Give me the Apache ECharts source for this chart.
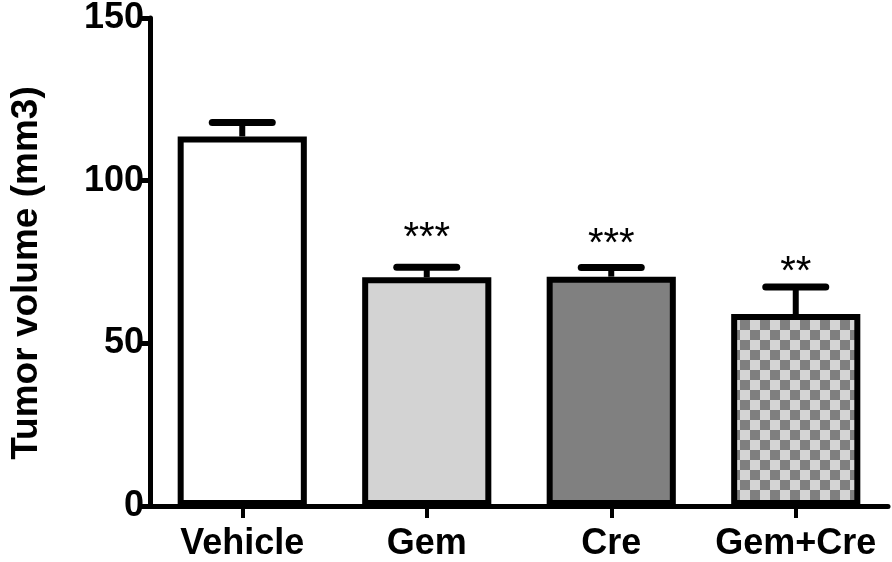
<!DOCTYPE html>
<html><head><meta charset="utf-8">
<script src="https://cdn.jsdelivr.net/npm/echarts@6/dist/echarts.min.js"></script>
<style>html,body{margin:0;padding:0;background:#fff}#c{width:892px;height:562px}</style>
</head><body><div id="c"></div>
<script>
const categories = ['Vehicle', 'Gem', 'Cre', 'Gem+Cre'];
const means = [113.6, 70.3, 70.5, 59.0];
const sems = [4.3, 3.1, 2.8, 8.3];
const stars = ['', '***', '***', '**'];
const starLevels = [null, 82.0, 80.2, 71.7];
const yTicks = [0, 50, 100, 150];

const FONT = '"Liberation Sans", Arial, sans-serif';

function checker() {
  const c = document.createElement('canvas');
  c.width = 20; c.height = 20;
  const g = c.getContext('2d');
  g.fillStyle = '#d4d4d4'; g.fillRect(0, 0, 20, 20);
  g.fillStyle = '#7f7f7f';
  g.fillRect(0, 0, 10, 10); g.fillRect(10, 10, 10, 10);
  return c;
}
const fills = ['#ffffff', '#d3d3d3', '#808080', { image: checker(), repeat: 'repeat' }];

const chart = echarts.init(document.getElementById('c'), null, { renderer: 'canvas' });
chart.setOption({
  animation: false,
  backgroundColor: '#ffffff',
  grid: { left: 150, right: 4, top: 15, bottom: 54, containLabel: false },
  xAxis: {
    type: 'category',
    data: categories,
    boundaryGap: true,
    axisLine: { show: true, lineStyle: { color: '#000', width: 5 } },
    axisTick: { show: true, alignWithLabel: true, length: 12, lineStyle: { color: '#000', width: 4 } },
    axisLabel: { interval: 0, color: '#000', fontFamily: FONT, fontWeight: 'bold', fontSize: 36, margin: 20 },
    splitLine: { show: false }
  },
  yAxis: {
    type: 'value',
    min: yTicks[0], max: yTicks[yTicks.length - 1], interval: yTicks[1] - yTicks[0],
    name: 'Tumor volume (mm3)',
    nameLocation: 'middle',
    nameGap: 105,
    nameTextStyle: { color: '#000', fontFamily: FONT, fontWeight: 'bold', fontSize: 37, padding: [0, 22, 0, 0] },
    axisLine: { show: true, lineStyle: { color: '#000', width: 5 } },
    axisTick: { show: true, length: 12, lineStyle: { color: '#000', width: 5 } },
    axisLabel: { color: '#000', fontFamily: FONT, fontWeight: 'bold', fontSize: 36, margin: 6 },
    splitLine: { show: false }
  },
  series: [
    {
      type: 'bar',
      barWidth: '70%',
      data: means.map((v, i) => ({ value: v, itemStyle: { color: fills[i] } })),
      itemStyle: { borderColor: '#000', borderWidth: 6 },
      z: 2
    },
    {
      type: 'custom',
      z: 3,
      data: means.map((m, i) => [i, m, sems[i]]),
      renderItem: function (params, api) {
        const i = api.value(0), m = api.value(1), e = api.value(2);
        const b = api.coord([i, m]);
        const t = api.coord([i, m + e]);
        return {
          type: 'group',
          children: [
            { type: 'line', shape: { x1: b[0], y1: b[1], x2: t[0], y2: t[1] }, style: { stroke: '#000', lineWidth: 6 } },
            { type: 'line', shape: { x1: t[0] - 30, y1: t[1], x2: t[0] + 30, y2: t[1] }, style: { stroke: '#000', lineWidth: 7, lineCap: 'round' } }
          ]
        };
      }
    },
    {
      type: 'custom',
      z: 4,
      data: starLevels.map((s, i) => [i, s === null ? 0 : s, i]).filter(d => starLevels[d[2]] !== null),
      renderItem: function (params, api) {
        const i = api.value(0), s = api.value(1), k = api.value(2);
        const p = api.coord([i, s]);
        return {
          type: 'text',
          style: {
            x: p[0], y: p[1], text: stars[k],
            fill: '#000', font: '40px ' + FONT,
            textAlign: 'center', textVerticalAlign: 'middle'
          }
        };
      }
    }
  ]
});
</script></body></html>
